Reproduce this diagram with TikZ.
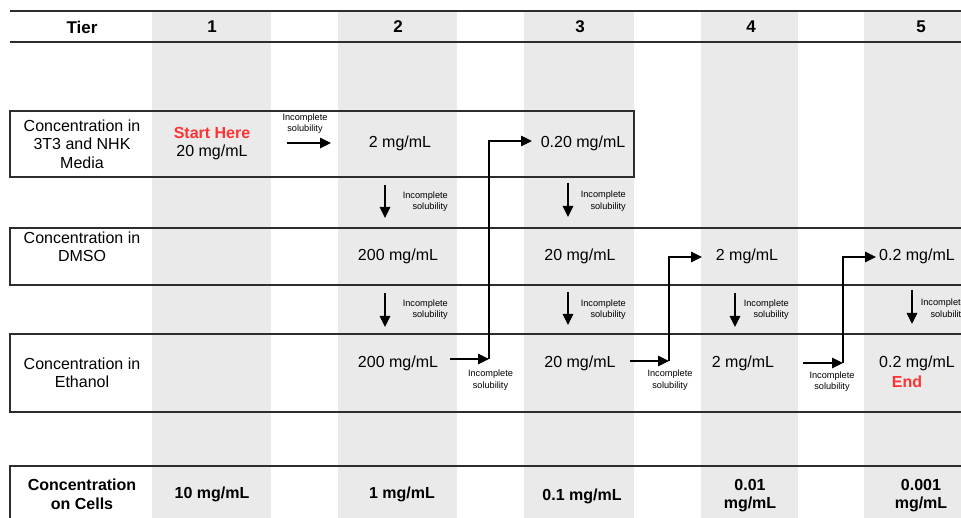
\documentclass[tikz,border=0pt]{standalone}
\usepackage{fontspec}
\setmainfont{Liberation Sans}
\usetikzlibrary{arrows.meta}
\definecolor{cellgray}{RGB}{234,234,234}
\definecolor{startred}{RGB}{255,51,51}
\definecolor{rulecol}{RGB}{45,45,45}
\begin{document}
\begin{tikzpicture}[x=1pt,y=-1pt,
  txt/.style={font=\fontsize{16}{18.5}\selectfont, align=center, inner sep=0pt},
  btxt/.style={font=\fontsize{16}{18.5}\selectfont\bfseries, align=center, inner sep=0pt},
  hdr/.style={font=\fontsize{17}{19}\selectfont\bfseries, inner sep=0pt},
  tinyr/.style={font=\fontsize{9.2}{11.5}\selectfont, inner sep=0pt, align=right, anchor=east},
  tinyc/.style={font=\fontsize{9.2}{11.5}\selectfont, inner sep=0pt, align=center},
  rul/.style={draw=rulecol, line width=1.4pt},
  arr/.style={draw=black, line width=1.2pt, -{Triangle[length=11pt,width=10.5pt]}},
  redtxt/.style={text=startred, font=\fontsize{16}{18.5}\selectfont\bfseries}
]
\useasboundingbox (0,0) rectangle (961,518);
% gray columns
\foreach \a/\b in {152/271, 338/457, 524/634, 701/798, 864/961}
  \fill[cellgray] (\a,11) rectangle (\b,518);
% rules
\draw[rul] (10,11) -- (961,11);
\draw[rul] (10,42) -- (961,42);
\draw[rul] (10,111) rectangle (634,177);
\draw[rul] (961,228) -- (10,228) -- (10,285) -- (961,285);
\draw[rul] (961,334) -- (10,334) -- (10,412) -- (961,412);
\draw[rul] (961,466) -- (10,466) -- (10,518);
% header
\node[hdr] (hTier) at (82,27) {Tier};
\node[hdr] (h1) at (212,27) {1};
\node[hdr] (h2) at (398,27) {2};
\node[hdr] (h3) at (580,27) {3};
\node[hdr] (h4) at (751,27) {4};
\node[hdr] (h5) at (921,27) {5};
% row labels
\node[txt] (lMedia) at (82,144) {Concentration in\\3T3 and NHK\\Media};
\node[txt] (lDMSO) at (82,247) {Concentration in\\DMSO};
\node[txt] (lEth) at (82,373) {Concentration in\\Ethanol};
\node[btxt] (lCells) at (82,494.5) {Concentration\\on Cells};
% row 1
\node[txt] (m1) at (212,143.5) {\textcolor{startred}{\bfseries Start Here}\\20 mg/mL};
\node[txt] (m2) at (400,143) {2 mg/mL};
\node[txt] (m3) at (583,143) {0.20 mg/mL};
% row 2
\node[txt] (d2) at (398,256) {200 mg/mL};
\node[txt] (d3) at (580,256) {20 mg/mL};
\node[txt] (d4) at (747,256) {2 mg/mL};
\node[txt] (d5) at (917,256) {0.2 mg/mL};
% row 3
\node[txt] (e2) at (398,363) {200 mg/mL};
\node[txt] (e3) at (580,363) {20 mg/mL};
\node[txt] (e4) at (743,363) {2 mg/mL};
\node[txt] (e5) at (917,363) {0.2 mg/mL};
\node[redtxt, inner sep=0pt] (endlbl) at (907,382) {End};
% row 4
\node[btxt] (c1) at (212,494) {10 mg/mL};
\node[btxt] (c2) at (402,494) {1 mg/mL};
\node[btxt] (c3) at (582,496) {0.1 mg/mL};
\node[btxt] (c4) at (750,495.5) {0.01\\mg/mL};
\node[btxt] (c5) at (921,495.5) {0.001\\mg/mL};
% arrow row 1
\coordinate (a1s) at (287,143);
\coordinate (a1e) at (331,143);
\draw[arr] (a1s) -- (a1e);
\node[tinyc] (t1) at (305,123.5) {Incomplete\\solubility};
% down arrows
\coordinate (v1s) at (385,185); \coordinate (v1e) at (385,218);
\draw[arr] (v1s) -- (v1e);
\node[tinyr] (t2) at (448,201.5) {Incomplete\\solubility};
\coordinate (v2s) at (568,183); \coordinate (v2e) at (568,217);
\draw[arr] (v2s) -- (v2e);
\node[tinyr] (t3) at (626,201) {Incomplete\\solubility};
\coordinate (v3s) at (385,293); \coordinate (v3e) at (385,327);
\draw[arr] (v3s) -- (v3e);
\node[tinyr] (t4) at (448,309.5) {Incomplete\\solubility};
\coordinate (v4s) at (568,292); \coordinate (v4e) at (568,325);
\draw[arr] (v4s) -- (v4e);
\node[tinyr] (t5) at (626,309.5) {Incomplete\\solubility};
\coordinate (v5s) at (735,293); \coordinate (v5e) at (735,327);
\draw[arr] (v5s) -- (v5e);
\node[tinyr] (t6) at (789,309.5) {Incomplete\\solubility};
\coordinate (v6s) at (912,290); \coordinate (v6e) at (912,324);
\draw[arr] (v6s) -- (v6e);
\node[tinyr] (t7) at (966,309) {Incomplete\\solubility};
% elbow connectors
\coordinate (k1a) at (450,359); \coordinate (k1b) at (489,359);
\coordinate (k1c) at (489,141); \coordinate (k1d) at (532,141);
\draw[arr] (k1a) -- (k1b);
\draw[arr] (k1b) -- (k1c) -- (k1d);
\node[tinyc] (t8) at (490.5,380) {Incomplete\\solubility};
\coordinate (k2a) at (630,361); \coordinate (k2b) at (669,361);
\coordinate (k2c) at (669,257); \coordinate (k2d) at (702,257);
\draw[arr] (k2a) -- (k2b);
\draw[arr] (k2b) -- (k2c) -- (k2d);
\node[tinyc] (t9) at (670,380) {Incomplete\\solubility};
\coordinate (k3a) at (803,363); \coordinate (k3b) at (843,363);
\coordinate (k3c) at (843,257); \coordinate (k3d) at (876,257);
\draw[arr] (k3a) -- (k3b);
\draw[arr] (k3b) -- (k3c) -- (k3d);
\node[tinyc] (t10) at (832,381.5) {Incomplete\\solubility};
\end{tikzpicture}
\end{document}
